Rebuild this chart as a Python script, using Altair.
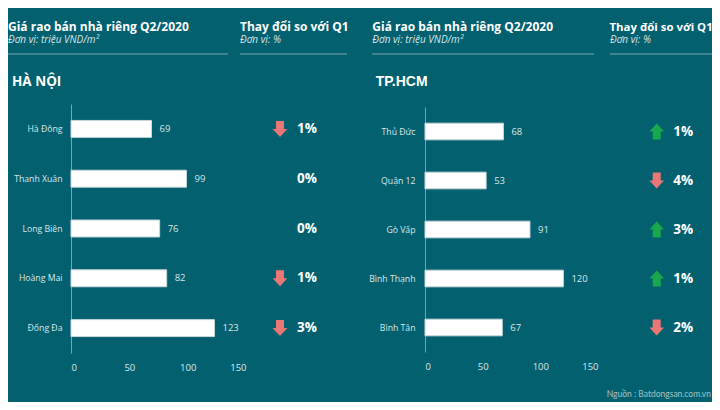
import altair as alt
import pandas as pd

# ---------------- data ----------------
hn_districts = ["Hà Đông", "Thanh Xuân", "Long Biên", "Hoàng Mai", "Đống Đa"]
hn_prices = [69, 99, 76, 82, 123]
hn_change = [-1, 0, 0, -1, -3]

hcm_districts = ["Thủ Đức", "Quận 12", "Gò Vấp", "Bình Thạnh", "Bình Tân"]
hcm_prices = [68, 53, 91, 120, 67]
hcm_change = [1, -4, 3, 1, -2]

x_ticks = [0, 50, 100, 150]

# ---------------- style ----------------
BG = "#02606f"
LINE = "#7aa5ae"
LIGHT = "#dbe7ea"
RED = "#ea7676"
GREEN = "#18a84c"
FONT = "Open Sans"
W, H = 704, 394

DOWN = "M-0.5,-1L0.5,-1L0.5,0L0.92,0L0,1L-0.92,0L-0.5,0Z"
UP = "M-0.5,1L0.5,1L0.5,0L0.92,0L0,-1L-0.92,0L-0.5,0Z"


def frame(districts, prices, changes):
    return pd.DataFrame({
        "district": districts,
        "price": prices,
        "pct": [f"{abs(c)}%" for c in changes],
        "dir": ["down" if c < 0 else ("up" if c > 0 else "none") for c in changes],
    })


def panel(df, districts, x_range, y_range, axis_x, label_pad, arrow_x, pct_x):
    base = alt.Chart(df)
    y = alt.Y(
        "district:N", sort=districts,
        scale=alt.Scale(range=y_range, paddingInner=0.66, paddingOuter=0.33),
        axis=alt.Axis(orient="left", offset=-axis_x, title=None, domain=True,
                      domainColor=LINE, domainWidth=1, ticks=False, tickSize=0,
                      labelPadding=label_pad, labelColor=LIGHT, labelFontSize=8.7,
                      labelFont=FONT, grid=False),
    )
    x = alt.X(
        "price:Q",
        scale=alt.Scale(domain=[0, 150], range=x_range, nice=False),
        axis=alt.Axis(orient="bottom", offset=-(H - y_range[1]), values=x_ticks,
                      domain=False, ticks=False, tickSize=0, labelPadding=9,
                      labelColor=LIGHT, labelFontSize=9.5, labelFont=FONT,
                      grid=False, title=None),
    )
    bars = base.mark_bar(color="white", stroke="#c9d8dc", strokeWidth=1).encode(x=x, y=y)
    values = base.mark_text(align="left", baseline="middle", dx=8, fontSize=9.5,
                            color=LIGHT, font=FONT).encode(x=x, y=y, text="price:Q")
    downs = base.transform_filter(alt.datum.dir == "down").mark_point(
        shape=DOWN, filled=True, size=256, color=RED, opacity=1, strokeWidth=0
    ).encode(x=alt.value(arrow_x), y=y)
    ups = base.transform_filter(alt.datum.dir == "up").mark_point(
        shape=UP, filled=True, size=256, color=GREEN, opacity=1, strokeWidth=0
    ).encode(x=alt.value(arrow_x), y=y)
    pct = base.mark_text(align="left", baseline="middle", fontSize=13.5,
                         fontWeight="bold", color="white", font=FONT).encode(
        x=alt.value(pct_x), y=y, text="pct:N")
    return alt.layer(bars, values, downs, ups, pct)


def txt(s, x, y, size, weight="normal", style="normal", color="white", font=FONT, align="left"):
    return alt.Chart(alt.Data(values=[{}])).mark_text(
        text=s, align=align, baseline="alphabetic", fontSize=size, fontWeight=weight,
        fontStyle=style, color=color, font=font
    ).encode(x=alt.value(x), y=alt.value(y))


def hline(x1, x2, y):
    return alt.Chart(alt.Data(values=[{}])).mark_rule(color=LINE, strokeWidth=1).encode(
        x=alt.value(x1), x2=alt.value(x2), y=alt.value(y))


TY, SY, LY = 23.2, 34.8, 46
headers = [
    txt("Giá rao bán nhà riêng Q2/2020", 0, TY, 12, weight="bold"),
    txt("Đơn vị: triệu VND/m²", 0, SY, 10, style="italic", color=LIGHT),
    hline(0, 220, LY),
    txt("Thay đổi so với Q1", 232, TY, 12, weight="bold"),
    txt("Đơn vị: %", 232, SY, 10, style="italic", color=LIGHT),
    hline(232, 339, LY),
    txt("Giá rao bán nhà riêng Q2/2020", 364.3, TY, 12, weight="bold"),
    txt("Đơn vị: triệu VND/m²", 364.3, SY, 10, style="italic", color=LIGHT),
    hline(364, 586, LY),
    txt("Thay đổi so với Q1", 601.5, TY, 11.4, weight="bold"),
    txt("Đơn vị: %", 602, SY, 10, style="italic", color=LIGHT),
    hline(602, 704, LY),
    txt("HÀ NỘI", 4, 78, 13.5, weight="bold"),
    txt("TP.HCM", 367.7, 78, 14, weight="bold", font="Liberation Sans"),
    txt("Nguồn : Batdongsan.com.vn", 703, 389, 8.5, color="#a6c2c8", font="Lato", align="right"),
]

left = panel(frame(hn_districts, hn_prices, hn_change), hn_districts,
             [63, 238], [96, 345], 63, 9, 272, 289)
right = panel(frame(hcm_districts, hcm_prices, hcm_change), hcm_districts,
              [417, 590], [99, 344], 417, 10, 648.7, 665.3)

chart = alt.layer(*headers, left, right).resolve_scale(
    x="independent", y="independent"
).properties(
    width=W, height=H,
    autosize=alt.AutoSizeParams(type="none"),
    padding=0,
    background=BG,
    usermeta={"embedOptions": {"defaultStyle":
        "html,body{background:" + BG + ";overflow:hidden;} .vega-embed svg{display:block;}"}},
).configure_view(stroke=None)

chart.save("out.html", embed_options={"renderer": "svg", "actions": False})
